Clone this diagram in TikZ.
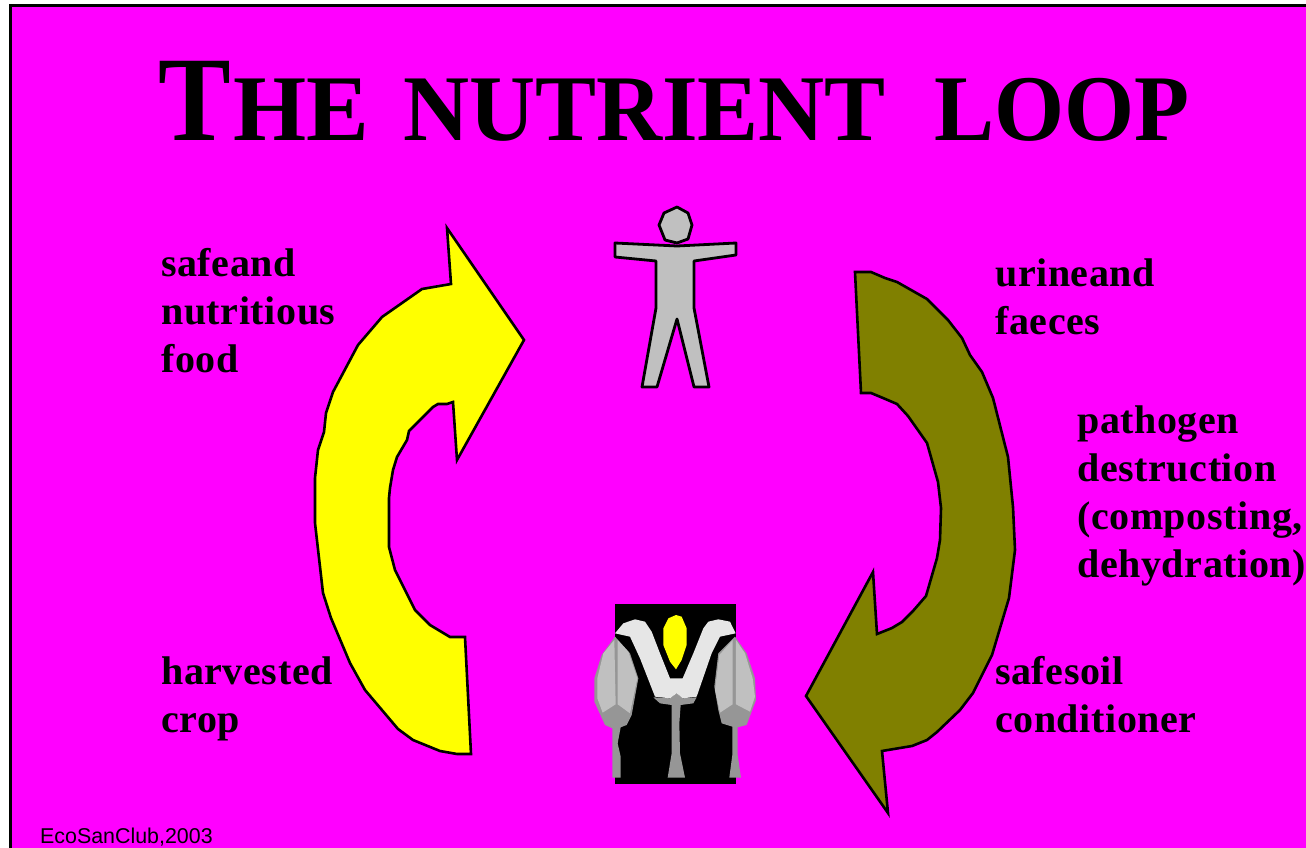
\documentclass[tikz,border=0pt]{standalone}
\usepackage{fontspec}
\setmainfont{Liberation Serif}
\setsansfont{Liberation Sans}
\newfontfamily\labelfont[LetterSpace=1.5]{Liberation Serif Bold}
\usepackage{xcolor}
\definecolor{slide}{HTML}{FF00FF}
\definecolor{food}{HTML}{FFFF00}
\definecolor{waste}{HTML}{808000}
\definecolor{body}{HTML}{C0C0C0}
\definecolor{stalk}{HTML}{969696}
\definecolor{husk}{HTML}{E6E6E6}
\tikzset{
  every node/.style={text=black,inner sep=0pt},
  titletext/.style={anchor=base west,font=\bfseries},
  looplabel/.style={anchor=base west,align=left,font=\labelfont\fontsize{40}{48}\selectfont},
  credit/.style={anchor=base west,font=\sffamily\fontsize{21.4}{24}\selectfont},
  looparrow/.style={draw=black,line width=2.6pt,line join=miter},
  figure/.style={draw=black,line width=2.8pt,fill=body,line join=round},
}
\newcommand{\titlecap}[1]{\scalebox{0.9}[1]{\fontsize{121}{121}\selectfont #1}}
\newcommand{\titleword}[2]{\scalebox{#1}[1]{\fontsize{94}{94}\selectfont #2}}

\begin{document}
\begin{tikzpicture}[x=1pt,y=-1pt]
\useasboundingbox (0,0) rectangle (1306,848);

% slide background
\fill[white] (0,0) rectangle (1306,848);
\fill[slide] (10,5) rectangle (1306,848);
\draw[black,line width=3pt] (10.5,848) -- (10.5,5.5) -- (1306,5.5);

% title
\node[titletext] (title) at (158,140) {\titlecap{T}\hspace{3pt}\titleword{1}{HE}\hspace{31pt} \titleword{0.973}{NUTRIENT}\hspace{46pt} \titleword{0.958}{LOOP}};

% yellow arrow
\draw[looparrow,fill=food] (447,228) -- (524,340) -- (457,460) -- (453,402) -- (447,404) -- (438,404) -- (433,407)
  -- (409,431) -- (407,440) -- (397,457) -- (393,470) -- (390,488) -- (389,498) -- (389,547) -- (395,570)
  -- (415,610) -- (430,625) -- (450,637) -- (465,637) -- (471,754) -- (457,754) -- (440,751) -- (413,740)
  -- (398,729) -- (365,690) -- (350,663) -- (331,618) -- (323,593) -- (315,523) -- (315,478) -- (318,450)
  -- (324,432) -- (326,413) -- (333,392) -- (358,345) -- (382,317) -- (422,289) -- (451,284) -- cycle;

% olive arrow
\draw[looparrow,fill=waste] (855,272) -- (871,272) -- (885,278) -- (897,282) -- (927,299) -- (948,320) -- (962,338)
  -- (970,355) -- (982,372) -- (993,398) -- (1008,457) -- (1013,507) -- (1015,550) -- (1009,598) -- (992,655)
  -- (973,693) -- (960,710) -- (937,732) -- (927,740) -- (912,746) -- (882,751) -- (888,813) -- (806,696)
  -- (873,572) -- (877,634) -- (892,628) -- (902,622) -- (913,611) -- (926,596) -- (937,558) -- (940,540) -- (941,508)
  -- (938,482) -- (927,443) -- (908,416) -- (897,404) -- (883,398) -- (871,393) -- (861,393) -- cycle;

% person
\draw[figure] (615,243) -- (677,246) -- (736,243) -- (736,255) -- (694,261) -- (694,308) -- (709,387) -- (694,387)
  -- (677,319) -- (657,387) -- (642,387) -- (656,308) -- (656,261) -- (615,257) -- cycle;
\draw[figure] (677,207) -- (688,213) -- (692,225) -- (688,239) -- (677,243) -- (665,240) -- (659,225) -- (664,213) -- cycle;

% plant
\begin{scope}[shift={(580,590)},x=0.3333pt,y=-0.3333pt]
  \fill[black] (105,42) rectangle (467,582);
  % left leaf
  \fill[stalk] (105,140) -- (65,195) -- (43,265) -- (43,335) -- (75,405) -- (97,415) -- (97,563) -- (122,563)
    -- (122,500) -- (113,460) -- (122,412) -- (140,405) -- (155,375) -- (175,265) -- (150,190) -- cycle;
  \fill[body] (103,150) -- (70,190) -- (52,265) -- (52,325) -- (68,368) -- (107,343) -- cycle;
  \fill[body] (113,150) -- (113,343) -- (150,370) -- (172,265) -- (145,185) -- cycle;
  % right leaf
  \fill[stalk] (465,140) -- (500,190) -- (525,265) -- (528,330) -- (500,405) -- (473,412) -- (473,495) -- (483,563)
    -- (448,563) -- (457,495) -- (457,410) -- (425,400) -- (415,360) -- (403,290) -- (415,190) -- cycle;
  \fill[body] (458,150) -- (458,343) -- (420,368) -- (405,300) -- (418,195) -- cycle;
  \fill[body] (468,150) -- (468,343) -- (510,365) -- (525,320) -- (518,265) -- (495,190) -- cycle;
  % centre stem
  \fill[stalk] (220,322) -- (270,325) -- (290,310) -- (308,325) -- (350,322) -- (340,340) -- (302,345) -- (298,400)
    -- (300,490) -- (315,563) -- (263,563) -- (275,490) -- (275,345) -- (240,340) -- cycle;
  % husk and cob
  \fill[husk] (105,130) -- (130,100) -- (165,88) -- (195,95) -- (215,125) -- (240,190) -- (270,265) -- (308,265)
    -- (340,190) -- (370,115) -- (385,95) -- (415,88) -- (450,95) -- (467,130) -- (420,140) -- (395,190) -- (350,320)
    -- (308,325) -- (290,310) -- (270,325) -- (225,320) -- (180,205) -- (150,140) -- cycle;
  \fill[food] (288,75) -- (305,80) -- (320,115) -- (320,165) -- (305,210) -- (288,238) -- (270,215) -- (250,165)
    -- (250,115) -- (265,85) -- cycle;
\end{scope}

% labels
\node[looplabel] (eat) at (161,372) {safeand\\nutritious\\food};
\node[looplabel] (crop) at (161,732) {harvested\\crop};
\node[looplabel] (urine) at (995,334) {urineand\\faeces};
\node[looplabel] (pathogen) at (1077,577) {pathogen\\destruction\\(composting,\\dehydration)};
\node[looplabel] (soil) at (995,732) {safesoil\\conditioner};
\node[credit] (club) at (40,843) {EcoSanClub,2003};

\end{tikzpicture}
\end{document}
